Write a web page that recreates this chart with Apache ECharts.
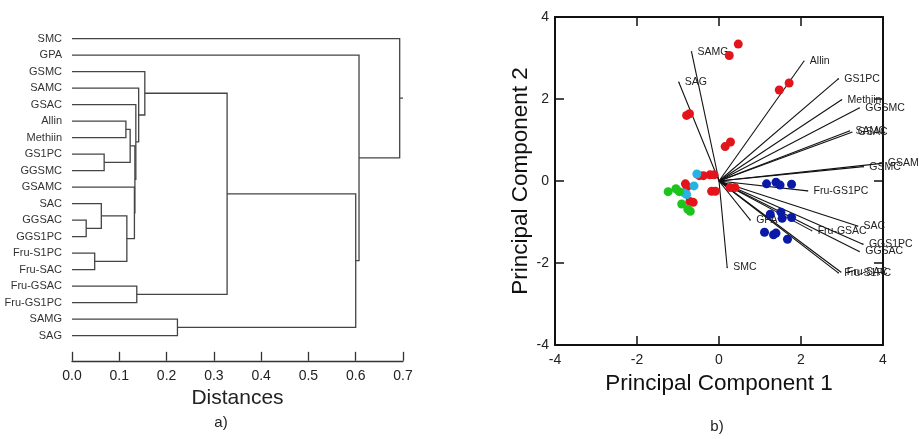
<!DOCTYPE html>
<html>
<head>
<meta charset="utf-8">
<title>Dendrogram and PCA</title>
<script src="https://cdn.jsdelivr.net/npm/echarts@6/dist/echarts.min.js"></script>
<style>html,body{margin:0;background:#fff;}</style>
</head>
<body>
<div id="main" style="width:919px;height:439px;"></div>
<script type="text/javascript">
// --- a) dendrogram ---
var leaves = ['SMC', 'GPA', 'GSMC', 'SAMC', 'GSAC', 'Allin', 'Methiin', 'GS1PC', 'GGSMC', 'GSAMC',
    'SAC', 'GGSAC', 'GGS1PC', 'Fru-S1PC', 'Fru-SAC', 'Fru-GSAC', 'Fru-GS1PC', 'SAMG', 'SAG'];
// [child a, child b, distance]; ids >= 19 point at earlier merges (19 = first row)
var merges = [
    [5, 6, 0.114],    // 19
    [7, 8, 0.068],    // 20
    [19, 20, 0.123],  // 21
    [11, 12, 0.030],  // 22
    [10, 22, 0.062],  // 23
    [13, 14, 0.048],  // 24
    [23, 24, 0.116],  // 25
    [9, 25, 0.132],   // 26
    [21, 26, 0.133],  // 27
    [4, 27, 0.135],   // 28
    [3, 28, 0.141],   // 29
    [2, 29, 0.154],   // 30
    [15, 16, 0.137],  // 31
    [30, 31, 0.328],  // 32
    [17, 18, 0.223],  // 33
    [32, 33, 0.600],  // 34
    [1, 34, 0.607],   // 35
    [0, 35, 0.693]    // 36
];
var rootTip = 0.70;
var distTicks = [0, 0.7, 0.1];

// --- b) PCA biplot ---
var loadNames = ['SAMG', 'SAG', 'Allin', 'GS1PC', 'Methiin', 'GGSMC', 'SAMC', 'GSAC', 'GSAMC', 'GSMC',
    'Fru-GS1PC', 'GPA', 'SMC', 'Fru-GSAC', 'SAC', 'GGS1PC', 'GGSAC', 'Fru-S1PC', 'Fru-SAC'];
var loadX = [-0.67, -0.98, 2.07, 2.91, 2.99, 3.42, 3.18, 3.24, 3.97, 3.52,
    2.16, 0.76, 0.20, 2.26, 3.38, 3.51, 3.42, 2.91, 2.97];
var loadY = [3.15, 2.41, 2.92, 2.49, 1.98, 1.78, 1.22, 1.19, 0.43, 0.35,
    -0.24, -0.95, -2.11, -1.21, -1.10, -1.54, -1.72, -2.24, -2.22];

var redPts = [[0.47, 3.34], [0.25, 3.06], [1.47, 2.22], [1.71, 2.39], [-0.79, 1.60], [-0.72, 1.64],
    [0.15, 0.84], [0.28, 0.95], [-0.48, 0.13], [-0.38, 0.13], [-0.22, 0.15], [-0.12, 0.15],
    [-0.82, -0.07], [-0.78, -0.14], [-0.18, -0.25], [-0.09, -0.25], [0.27, -0.16], [0.39, -0.16],
    [-0.71, -0.50], [-0.63, -0.52]];
var bluePts = [[1.16, -0.07], [1.39, -0.03], [1.49, -0.10], [1.77, -0.08],
    [1.25, -0.81], [1.51, -0.76], [1.54, -0.91], [1.77, -0.89],
    [1.11, -1.25], [1.33, -1.31], [1.39, -1.27], [1.67, -1.42]];
var cyanPts = [[-0.54, 0.17], [-0.61, -0.12], [-0.85, -0.29], [-0.79, -0.33]];
var greenPts = [[-1.24, -0.26], [-1.05, -0.19], [-0.97, -0.26], [-0.91, -0.56], [-0.76, -0.69], [-0.70, -0.74]];
var pcTicks = [-4, 4, 2];

// dendrogram layout: leaf rows are category indexes, merged nodes sit halfway
var nodeY = leaves.map(function (n, i) { return i; });
var nodeH = leaves.map(function () { return 0; });
var links = merges.map(function (m) {
    var row = [m[2], nodeY[m[0]], nodeY[m[1]], nodeH[m[0]], nodeH[m[1]]];
    nodeY.push((row[1] + row[2]) / 2);
    nodeH.push(m[2]);
    return row;
});
var rootY = nodeY[nodeY.length - 1];
links.push([rootTip, rootY, rootY, merges[merges.length - 1][2], merges[merges.length - 1][2]]);

var myChart = echarts.init(document.getElementById('main'));
var FONT = '"Liberation Sans", Arial, sans-serif';

function renderLink(params, api) {
    var l = links[params.dataIndex];
    var o = api.coord([0, 0]), u = api.coord([0, 1]);
    function py(v) { return o[1] + v * (u[1] - o[1]); }
    function px(v) { return api.coord([v, 0])[0]; }
    return {
        type: 'polyline',
        shape: { points: [[px(l[3]), py(l[1])], [px(l[0]), py(l[1])], [px(l[0]), py(l[2])], [px(l[4]), py(l[2])]] },
        style: { stroke: '#444', lineWidth: 1.3, fill: null }
    };
}

function renderVector(params, api) {
    var o = api.coord([0, 0]);
    var p = api.coord([api.value(0), api.value(1)]);
    return {
        type: 'group',
        children: [
            { type: 'line', shape: { x1: o[0], y1: o[1], x2: p[0], y2: p[1] }, style: { stroke: '#111', lineWidth: 1.1 } },
            { type: 'circle', shape: { cx: p[0], cy: p[1], r: 0.8 }, style: { fill: '#333' } },
            { type: 'text', x: p[0] + 6, y: p[1], style: {
                text: loadNames[params.dataIndex], fill: '#222', fontSize: 10.5, fontFamily: FONT,
                align: 'left', verticalAlign: 'middle' } }
        ]
    };
}

function frameAxis(pos, show) {
    return {
        gridIndex: 1, type: 'value', position: pos,
        min: pcTicks[0], max: pcTicks[1], interval: pcTicks[2],
        axisLine: { show: true, onZero: false, lineStyle: { color: '#111', width: 2 } },
        axisTick: { show: true, inside: true, length: 9, lineStyle: { color: '#111', width: 1.5 } },
        axisLabel: { show: show, fontSize: 14, color: '#222', fontFamily: FONT, margin: 6 },
        splitLine: { show: false }
    };
}

function dots(data, color) {
    return {
        type: 'scatter', xAxisIndex: 1, yAxisIndex: 1, data: data, z: 4,
        symbolSize: 9, itemStyle: { color: color, opacity: 1 }, silent: true
    };
}

var xBottom = frameAxis('bottom', true);
xBottom.name = 'Principal Component 1';
xBottom.nameLocation = 'middle';
xBottom.nameGap = 22;
xBottom.nameTextStyle = { fontSize: 22.5, color: '#111', fontFamily: FONT };
xBottom.axisLabel.margin = 8;
var yLeft = frameAxis('left', true);
yLeft.name = 'Principal Component 2';
yLeft.nameLocation = 'middle';
yLeft.nameGap = 22;
yLeft.nameTextStyle = { fontSize: 22.5, color: '#111', fontFamily: FONT };

myChart.setOption({
    animation: false,
    textStyle: { fontFamily: FONT },
    grid: [
        { left: 72, top: 30.3, width: 331, height: 313.5 },
        { left: 555, top: 17, width: 328, height: 328 }
    ],
    xAxis: [
        {
            gridIndex: 0, type: 'value',
            min: distTicks[0], max: distTicks[1], interval: distTicks[2],
            offset: 17,
            axisLine: { show: true, onZero: false, lineStyle: { color: '#333', width: 1.3 } },
            axisTick: { show: true, inside: true, length: 9, lineStyle: { color: '#333', width: 1.3 } },
            axisLabel: { fontSize: 14, color: '#222', margin: 8, formatter: function (v) { return v.toFixed(1); } },
            splitLine: { show: false },
            name: 'Distances', nameLocation: 'middle', nameGap: 25,
            nameTextStyle: { fontSize: 21, color: '#222' }
        },
        xBottom,
        frameAxis('top', false)
    ],
    yAxis: [
        {
            gridIndex: 0, type: 'category', data: leaves, inverse: true,
            axisLine: { show: false }, axisTick: { show: false },
            axisLabel: { fontSize: 11, color: '#333', margin: 10 },
            splitLine: { show: false }
        },
        yLeft,
        frameAxis('right', false)
    ],
    graphic: [
        { type: 'text', x: 221, y: 423, style: { text: 'a)', fontSize: 15, fill: '#222', fontFamily: FONT, align: 'center', verticalAlign: 'middle' } },
        { type: 'text', x: 717, y: 427, style: { text: 'b)', fontSize: 15, fill: '#222', fontFamily: FONT, align: 'center', verticalAlign: 'middle' } }
    ],
    series: [
        {
            type: 'custom', xAxisIndex: 0, yAxisIndex: 0, silent: true,
            data: links.map(function (l) { return [l[0], 0]; }),
            renderItem: renderLink
        },
        {
            type: 'custom', xAxisIndex: 1, yAxisIndex: 1, silent: true, z: 3,
            data: loadX.map(function (x, i) { return [x, loadY[i]]; }),
            renderItem: renderVector
        },
        dots(redPts, '#e3141b'),
        dots(bluePts, '#0a1aa6'),
        dots(cyanPts, '#27b3e2'),
        dots(greenPts, '#1cc41c')
    ]
});
</script>
</body>
</html>
